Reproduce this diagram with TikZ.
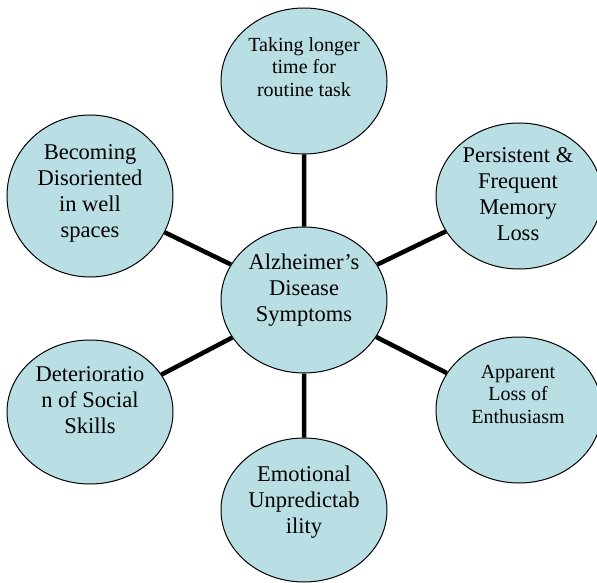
\documentclass[tikz,border=0pt]{standalone}
\usepackage{fontspec}
\setmainfont{Liberation Serif}
\usetikzlibrary{shapes.geometric}
\definecolor{bubblefill}{RGB}{185,223,228}

\begin{document}
\begin{tikzpicture}[x=1pt,y=-1pt,
    bubble/.style={ellipse,draw=black,line width=1pt,fill=bubblefill,inner sep=0pt,minimum width=166pt,minimum height=146pt},
    bigtext/.style={align=center,font=\fontsize{22.5}{26}\selectfont},
    smalltext/.style={align=center,font=\fontsize{20}{22.5}\selectfont},
    spoke/.style={line width=4.5pt}]
  \useasboundingbox (0,0) rectangle (597,583);

  % centre
  \node[bubble] (hub) at (304,300) {};
  \node[bigtext] (hubtext) at (304,290) {Alzheimer’s\\Disease\\Symptoms};

  % top and bottom
  \node[bubble] (routine) at (304,81) {};
  \node[smalltext] (routinetext) at (304,67) {Taking longer\\time for\\routine task};
  \node[bubble,minimum height=144pt] (emotion) at (304,510) {};
  \node[bigtext] (emotiontext) at (304,502) {Emotional\\Unpredictab\\ility};

  % left
  \node[bubble,minimum height=162pt] (disorient) at (90,196) {};
  \node[bigtext] (disorienttext) at (90,193) {Becoming\\Disoriented\\in well\\spaces};
  \node[bubble,minimum height=144pt] (social) at (90,412) {};
  \node[bigtext] (socialtext) at (90,400) {Deterioratio\\n of Social\\Skills};

  % right
  \node[bubble] (memory) at (519,196) {};
  \node[bigtext] (memorytext) at (518,194) {Persistent \&\\Frequent\\Memory\\Loss};
  \node[bubble] (enthusiasm) at (519,410) {};
  \node[smalltext] (enthusiasmtext) at (518,394) {Apparent\\Loss of\\Enthusiasm};

  \draw[spoke]
  (hub) -- (routine)
  (hub) -- (emotion)
  (hub) -- (disorient)
  (hub) -- (social)
  (hub) -- (memory)
  (hub) -- (enthusiasm);
\end{tikzpicture}
\end{document}
